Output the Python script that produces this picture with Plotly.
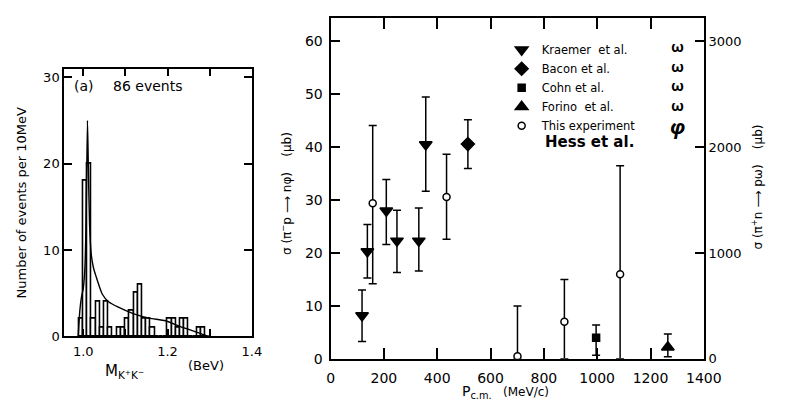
import plotly.graph_objects as go

# ---------------- data: panel (a) histogram ----------------
bin_lo = [0.99, 1.00, 1.01, 1.02, 1.03, 1.04, 1.05, 1.06, 1.07, 1.08,
          1.09, 1.10, 1.11, 1.12, 1.13, 1.14, 1.15, 1.16, 1.17, 1.18,
          1.19, 1.20, 1.21, 1.22, 1.23, 1.24, 1.25, 1.26, 1.27, 1.28]
counts = [2, 18, 20, 2, 4, 1, 4, 1, 0, 1,
          1, 2, 3, 5, 6, 2, 2, 1, 0, 0,
          0, 2, 2, 1, 2, 2, 0, 0, 1, 1]
fit_mass = [0.988, 0.992, 0.996, 1.000, 1.004, 1.007, 1.010, 1.012, 1.015,
            1.019, 1.024, 1.030, 1.045, 1.060, 1.082, 1.120, 1.157, 1.195,
            1.232, 1.262, 1.285, 1.300]
fit_counts = [0.0, 3.0, 4.6, 5.5, 8.0, 14.0, 25.0, 20.0, 13.0,
              9.5, 8.0, 7.0, 4.9, 4.0, 3.4, 2.6, 2.1, 1.8,
              1.1, 0.6, 0.2, 0.0]

# ---------------- data: cross sections ----------------
# omega production (right axis, microbarn)
kraemer_p = [118, 138, 209, 249, 331, 357]
kraemer_s = [410, 1015, 1400, 1115, 1115, 2025]
kraemer_up = [240, 255, 295, 290, 310, 450]
kraemer_dn = [245, 250, 320, 300, 285, 440]

bacon_p = [515]
bacon_s = [2030]
bacon_up = [230]
bacon_dn = [230]

cohn_p = [996]
cohn_s = [200]
cohn_up = [120]
cohn_dn = [165]

forino_p = [1265]
forino_s = [110]
forino_up = [125]
forino_dn = [90]

# phi production (left axis, microbarn)
this_p = [158, 435, 701, 877, 1086]
this_s = [29.4, 30.6, 0.5, 7.0, 16.0]
this_up = [14.7, 8.1, 9.5, 8.0, 20.5]
this_dn = [15.2, 8.0, 0.5, 7.0, 16.0]

FONT = "DejaVu Sans"
W, H = 785, 409


def px(x):
    return x / W


def py(y):
    return 1 - y / H


fig = go.Figure()

# histogram
fig.add_trace(go.Bar(
    x=bin_lo, y=counts, width=0.01, offset=0,
    marker=dict(color="white", line=dict(color="black", width=1.6)),
    xaxis="x", yaxis="y", showlegend=False, hoverinfo="skip"))
fig.add_trace(go.Scatter(
    x=fit_mass, y=fit_counts, mode="lines",
    line=dict(color="black", width=1.4, shape="spline", smoothing=0.6),
    xaxis="x", yaxis="y", showlegend=False, hoverinfo="skip"))

eb = dict(type="data", symmetric=False, color="black", thickness=1.5, width=4)


def add_series(x, y, up, dn, name, symbol, size, axis, fill="black"):
    fig.add_trace(go.Scatter(
        x=x, y=y, mode="markers", name=name,
        marker=dict(symbol=symbol, size=size, color=fill,
                    line=dict(color="black", width=1.5)),
        error_y=dict(eb, array=up, arrayminus=dn),
        xaxis="x2", yaxis=axis))


add_series(kraemer_p, kraemer_s, kraemer_up, kraemer_dn, "Kraemer  et al.",
           "triangle-down", 11, "y3")
add_series(bacon_p, bacon_s, bacon_up, bacon_dn, "Bacon et al.",
           "diamond", 10, "y3")
add_series(cohn_p, cohn_s, cohn_up, cohn_dn, "Cohn et al.",
           "square", 7, "y3")
add_series(forino_p, forino_s, forino_up, forino_dn, "Forino  et al.",
           "triangle-up", 11, "y3")
add_series(this_p, this_s, this_up, this_dn, "This experiment",
           "circle", 7, "y2", fill="white")

axis_common = dict(showline=True, linecolor="black", linewidth=2,
                   ticks="inside", tickcolor="black", tickwidth=1.6,
                   showgrid=False, zeroline=False,
                   tickfont=dict(family=FONT, size=13, color="black"))

fig.update_layout(
    width=W, height=H,
    margin=dict(l=0, r=0, t=0, b=0),
    paper_bgcolor="white", plot_bgcolor="white",
    font=dict(family=FONT, color="black"),
    bargap=0,
    xaxis=dict(axis_common, domain=[px(62), px(255)], range=[0.955, 1.4],
               anchor="y", mirror="ticks", ticklen=7,
               tickvals=[1.0, 1.1, 1.2, 1.3, 1.4],
               ticktext=["1.0", "", "1.2", "", "1.4"],
               ticklabelstandoff=2),
    yaxis=dict(axis_common, domain=[py(343), py(70)], range=[0, 31],
               anchor="x", mirror="ticks", ticklen=8,
               tickvals=[0, 10, 20, 30]),
    xaxis2=dict(axis_common, domain=[px(336), px(720)], range=[0, 1400],
                anchor="y2", mirror="ticks", ticklen=11,
                tickvals=[0, 200, 400, 600, 800, 1000, 1200, 1400],
                tickfont=dict(family=FONT, size=14, color="black"),
                ticklabelstandoff=5),
    yaxis2=dict(axis_common, domain=[py(366), py(18)], range=[0, 64.5],
                anchor="x2", ticklen=9,
                tickvals=[0, 10, 20, 30, 40, 50, 60],
                tickfont=dict(family=FONT, size=14, color="black"),
                ticklabelstandoff=3),
    yaxis3=dict(axis_common, range=[0, 3225], overlaying="y2",
                anchor="x2", side="right", ticklen=9,
                tickvals=[0, 1000, 2000, 3000],
                tickfont=dict(family=FONT, size=13, color="black")),
    legend=dict(x=px(512), y=py(36), xanchor="left", yanchor="top",
                bgcolor="rgba(0,0,0,0)", borderwidth=0,
                font=dict(family=FONT, size=11.5, color="black"),
                itemwidth=30, tracegroupgap=0),
)

ann = []


def add_text(x, y, text, size=13, angle=0, xanchor="center", bold=False,
             family=FONT):
    ann.append(dict(x=px(x), y=py(y), xref="paper", yref="paper",
                    text=("<b>%s</b>" % text) if bold else text,
                    showarrow=False, textangle=angle, xanchor=xanchor,
                    yanchor="middle",
                    font=dict(family=family, size=size, color="black")))


add_text(82, 88, "(a)", 14)
add_text(148, 88, "86 events", 14)
add_text(18, 207, "Number of events per 10MeV", 13, angle=-90)
add_text(124, 379, "M<sub>K<sup>+</sup>K<sup>−</sup></sub>", 15)
add_text(208, 373, "(BeV)", 13)
add_text(290, 197, "σ (π<sup>−</sup>p ⟶ nφ)    (μb)", 12, angle=-90)
add_text(775, 191, "σ (π<sup>+</sup>n ⟶ pω)    (μb)", 12, angle=-90)
add_text(487, 400, "P<sub>c.m.</sub>", 14)
add_text(537, 400, "(MeV/c)", 12)
add_text(693, 77, "ω<br>ω<br>ω<br>ω", 15, bold=True, family="Noto Sans")
add_text(693, 129, "<i>φ</i>", 20, bold=True, family="Noto Sans")
add_text(602, 145, "Hess et al.", 15, bold=True)

fig.update_layout(annotations=ann)

fig.write_html("out.html")
